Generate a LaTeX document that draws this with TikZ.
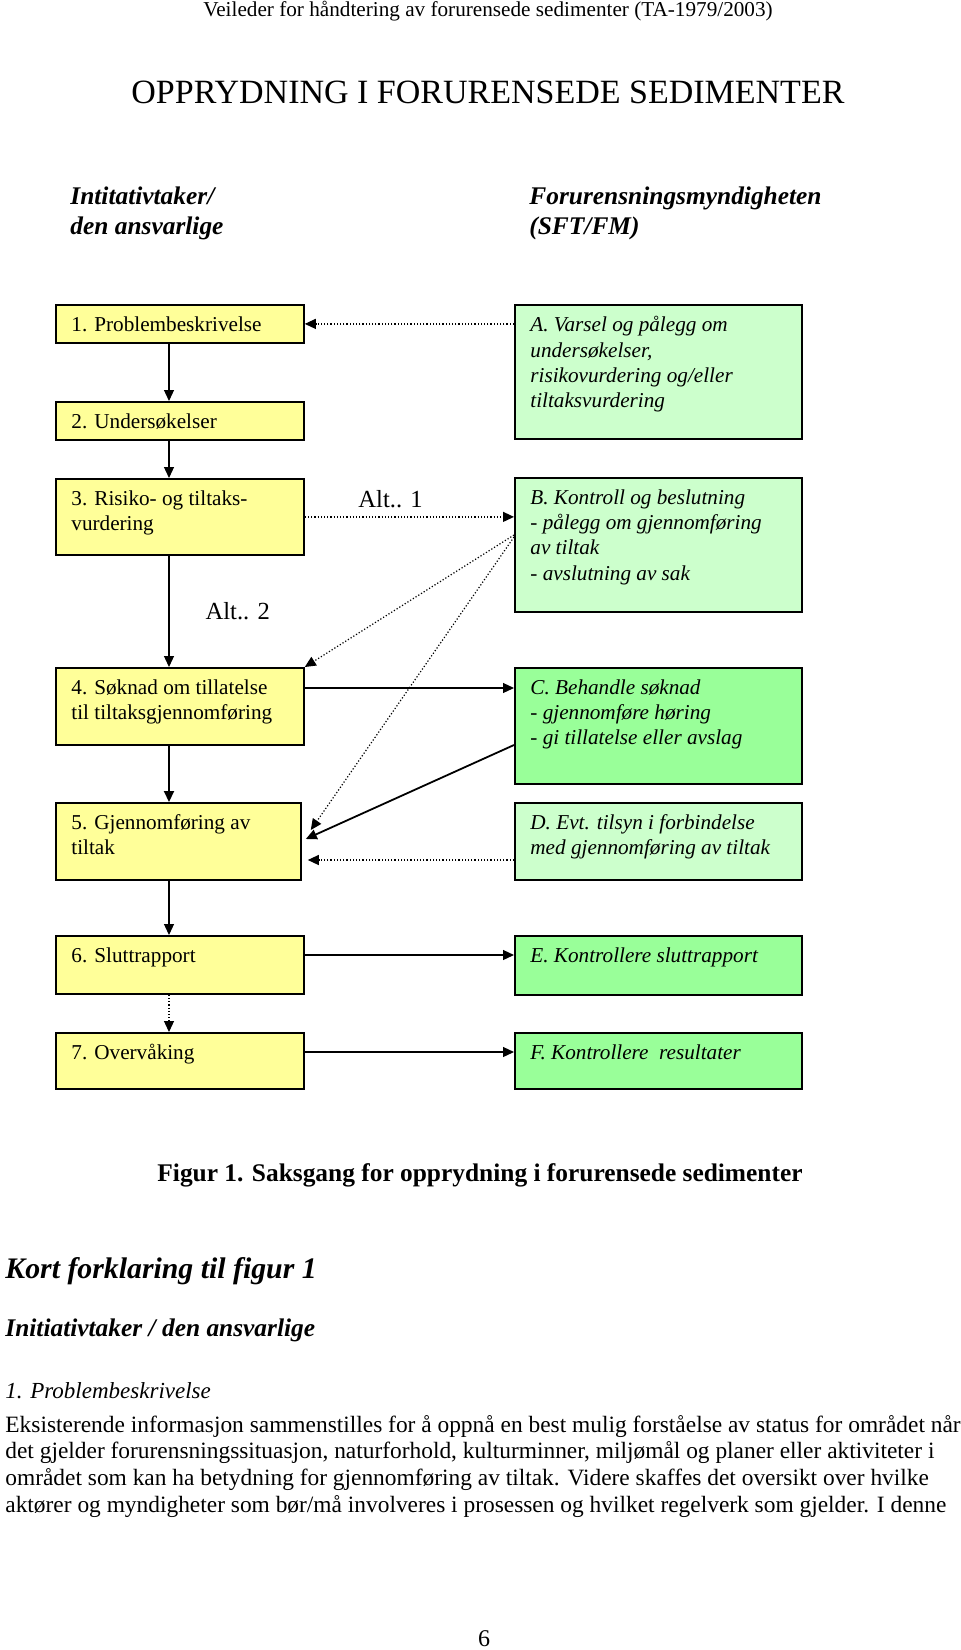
\documentclass[tikz,border=0pt]{standalone}
\usepackage{fontspec}
\setmainfont{Liberation Serif}
\usetikzlibrary{positioning,arrows.meta}

\definecolor{boxyellow}{RGB}{255,255,153}
\definecolor{palegreen}{RGB}{204,255,204}
\definecolor{brightgreen}{RGB}{153,255,153}

\tikzset{
  lbox/.style={draw, line width=0.9pt, fill=boxyellow, minimum width=124pt, anchor=north west, inner sep=0pt},
  rbox/.style={draw, line width=0.9pt, fill=palegreen, minimum width=143.5pt, anchor=north west, inner sep=0pt},
  boxtext/.style={anchor=north west, inner sep=0pt, align=left, font=\fontsize{10.6}{12.65}\selectfont},
  gtext/.style={boxtext, font=\fontsize{10.6}{12.65}\selectfont\itshape},
  colhead/.style={anchor=north west, inner sep=0pt, align=left, font=\fontsize{12.7}{15}\selectfont\bfseries\itshape},
  altlabel/.style={inner sep=0pt, font=\fontsize{12.3}{14}\selectfont},
  flow/.style={-{Triangle[length=5.5pt,width=5pt]}, line width=0.6pt},
  dflow/.style={flow, densely dotted},
}

\begin{document}
\begin{tikzpicture}[x=1pt,y=-1pt]
\useasboundingbox (0,0) rectangle (480,825);

% page head
\node[font=\fontsize{10.6}{13}\selectfont] (head) at (244,5.5) {Veileder for håndtering av forurensede sedimenter (TA-1979/2003)};
\node[font=\fontsize{17}{20}\selectfont] (title) at (244,46) {OPPRYDNING I FORURENSEDE SEDIMENTER};
\node[colhead] (initiator) at (35,93) {Intitativtaker/\\den ansvarlige};
\node[colhead] (authority) at (264.5,93) {Forurensningsmyndigheten\\(SFT/FM)};

% initiativtaker side
\node[lbox, minimum height=19pt] (b1) at (27.5,152) {};
\node[lbox, minimum height=19pt] (b2) at (27.5,200.5) {};
\node[lbox, minimum height=38pt] (b3) at (27.5,239) {};
\node[lbox, minimum height=38.5pt] (b4) at (27.5,333.5) {};
\node[lbox, minimum height=38.5pt, minimum width=122.5pt] (b5) at (27.5,401) {};
\node[lbox, minimum height=29pt] (b6) at (27.5,467.5) {};
\node[lbox, minimum height=28pt] (b7) at (27.5,516) {};

\node[boxtext, below right=6pt and 8pt of b1.north west] (t1) {1. Problembeskrivelse};
\node[boxtext, below right=6pt and 8pt of b2.north west] (t2) {2. Undersøkelser};
\node[boxtext, below right=6pt and 8pt of b3.north west] (t3) {3. Risiko- og tiltaks-\\vurdering};
\node[boxtext, below right=6pt and 8pt of b4.north west] (t4) {4. Søknad om tillatelse\\til tiltaksgjennomføring};
\node[boxtext, below right=6pt and 8pt of b5.north west] (t5) {5. Gjennomføring av\\tiltak};
\node[boxtext, below right=6pt and 8pt of b6.north west] (t6) {6. Sluttrapport};
\node[boxtext, below right=6pt and 8pt of b7.north west] (t7) {7. Overvåking};

% myndighet side
\node[rbox, minimum height=67pt] (bA) at (257,152) {};
\node[rbox, minimum height=67pt] (bB) at (257,238.5) {};
\node[rbox, fill=brightgreen, minimum height=58pt] (bC) at (257,333.5) {};
\node[rbox, minimum height=38.5pt] (bD) at (257,401) {};
\node[rbox, fill=brightgreen, minimum height=29.5pt] (bE) at (257,467.5) {};
\node[rbox, fill=brightgreen, minimum height=28pt] (bF) at (257,516) {};

\node[gtext, below right=6pt and 8pt of bA.north west] (tA) {A. Varsel og pålegg om\\undersøkelser,\\risikovurdering og/eller\\tiltaksvurdering};
\node[gtext, below right=6pt and 8pt of bB.north west] (tB) {B. Kontroll og beslutning\\- pålegg om gjennomføring\\av tiltak\\- avslutning av sak};
\node[gtext, below right=6pt and 8pt of bC.north west] (tC) {C. Behandle søknad\\- gjennomføre høring\\- gi tillatelse eller avslag};
\node[gtext, below right=6pt and 8pt of bD.north west] (tD) {D. Evt. tilsyn i forbindelse\\med gjennomføring av tiltak};
\node[gtext, below right=6pt and 8pt of bE.north west] (tE) {E. Kontrollere sluttrapport};
\node[gtext, below right=6pt and 8pt of bF.north west] (tF) {F. Kontrollere\ \ resultater};

% connectors
\draw[dflow] (bA.west |- b1.east) -- (b1.east);
\draw[flow] ([xshift=57pt]b1.south west) -- ([xshift=57pt]b2.north west);
\draw[flow] ([xshift=57pt]b2.south west) -- ([xshift=57pt]b3.north west);
\draw[dflow] (b3.east) -- (b3.east -| bB.west) node[altlabel, pos=0.41, above=4pt] (alt1) {Alt.. 1};
\draw[flow] ([xshift=57pt]b3.south west) -- ([xshift=57pt]b4.north west) node[altlabel, midway, right=18pt] (alt2) {Alt.. 2};
\draw[dflow] ([yshift=-29pt]bB.north west) -- (b4.north east);
\draw[dflow] ([yshift=-30pt]bB.north west) -- ([shift={(4.5pt,-14pt)}]b5.north east);
\draw[flow] ([yshift=-10.5pt]b4.north east) -- ([yshift=-10.5pt]bC.north west);
\draw[flow, line width=1pt] ([xshift=57pt]b4.south west) -- ([xshift=57pt]b5.north west);
\draw[flow, line width=0.9pt] ([yshift=-39pt]bC.north west) -- ([shift={(2pt,-18.5pt)}]b5.north east);
\draw[dflow] ([yshift=-29pt]bD.north west) -- ([shift={(3pt,-29pt)}]b5.north east);
\draw[flow] ([xshift=57pt]b5.south west) -- ([xshift=57pt]b6.north west);
\draw[flow] ([yshift=-10pt]b6.north east) -- ([yshift=-10pt]bE.north west);
\draw[dflow] ([xshift=57pt]b6.south west) -- ([xshift=57pt]b7.north west);
\draw[flow] ([yshift=-10pt]b7.north east) -- ([yshift=-10pt]bF.north west);

% caption and text below
\node[font=\fontsize{12.7}{14}\selectfont\bfseries] (caption) at (240,587.5) {Figur 1. Saksgang for opprydning i forurensede sedimenter};
\node[anchor=base west, inner sep=0pt, font=\fontsize{14.9}{16}\selectfont\bfseries\itshape] (explain) at (2.5,639) {Kort forklaring til figur 1};
\node[anchor=base west, inner sep=0pt, font=\fontsize{12.7}{14}\selectfont\bfseries\itshape] (subhead) at (2.5,668) {Initiativtaker / den ansvarlige};
\node[anchor=base west, inner sep=0pt, font=\fontsize{11.5}{14}\selectfont\itshape] (item1) at (2.5,699) {1. Problembeskrivelse};
\node[anchor=north west, inner sep=0pt, align=left, font=\fontsize{11.7}{13.3}\selectfont] (para) at (2.5,707.5) {Eksisterende informasjon sammenstilles for å oppnå en best mulig forståelse av status for området når\\det gjelder forurensningssituasjon, naturforhold, kulturminner, miljømål og planer eller aktiviteter i\\området som kan ha betydning for gjennomføring av tiltak. Videre skaffes det oversikt over hvilke\\aktører og myndigheter som bør/må involveres i prosessen og hvilket regelverk som gjelder. I denne};
\node[anchor=base, font=\fontsize{12}{14}\selectfont] (pagenum) at (242,823) {6};
\end{tikzpicture}
\end{document}
